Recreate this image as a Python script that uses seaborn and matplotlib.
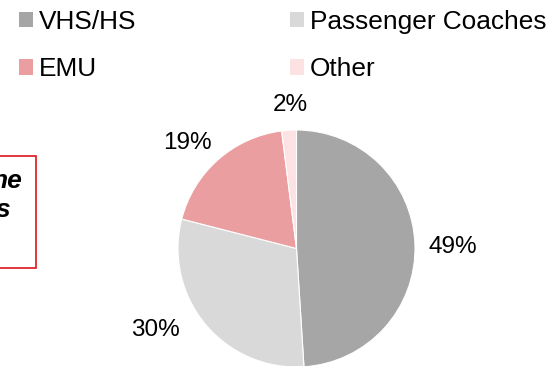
import matplotlib
matplotlib.use("Agg")
import matplotlib.pyplot as plt
import matplotlib.patches as mpatches
import seaborn as sns

# ---- data ----
categories = ["VHS/HS", "Passenger Coaches", "EMU", "Other"]
shares = [49, 30, 19, 2]
pct_labels = ["49%", "30%", "19%", "2%"]
colors = ["#A6A6A6", "#D9D9D9", "#EA9EA0", "#FDE2E4"]
# legend order (row-wise: VHS/HS, Passenger Coaches / EMU, Other)
legend_order = [0, 2, 1, 3]
# label positions (in pie-radius units), layout only
label_pos = [(1.32, 0.01), (-1.19, -0.69), (-0.92, 0.89), (-0.05, 1.21)]

sns.set_theme(style="white")
plt.rcParams["font.family"] = ["Liberation Sans", "DejaVu Sans"]
plt.rcParams["text.color"] = "black"

W, H = 555, 366
fig = plt.figure(figsize=(W / 100, H / 100), dpi=100)
fs = 17.5
fs_leg = 18.9

# pie axes: center (296.5, 248.5) px from top-left, radius 118.5 px
cx, cy, r = 296.5, 248.5, 118.5
ax = fig.add_axes([(cx - r) / W, (H - cy - r) / H, 2 * r / W, 2 * r / H])
wedges, _ = ax.pie(shares, colors=colors, startangle=90, counterclock=False,
                   radius=1.0, wedgeprops=dict(edgecolor="white", linewidth=0.8))
ax.set_xlim(-1, 1)
ax.set_ylim(-1, 1)
ax.set_aspect("equal")
ax.axis("off")
for lab, (x, y) in zip(pct_labels, label_pos):
    ax.text(x, y, lab, ha="center", va="center", fontsize=fs, color="black", clip_on=False)

# legend
handles = [mpatches.Patch(facecolor=colors[i], edgecolor="none") for i in legend_order]
labels = [categories[i] for i in legend_order]
fig.legend(handles, labels, loc="upper left", bbox_to_anchor=(19 / W, 1 - 10 / H),
           ncol=2, frameon=False, fontsize=fs_leg, handlelength=0.53, handleheight=0.53,
           handletextpad=0.23, columnspacing=5.85, labelspacing=0.88, borderpad=0,
           borderaxespad=0)

# partially visible annotation box on the left
fig.add_artist(mpatches.Rectangle((-20 / W, (H - 268) / H), 55.7 / W, 112 / H,
                                  transform=fig.transFigure, fill=False,
                                  edgecolor="#E0141E", linewidth=1.2))
fig.text(22.7 / W, 1 - 188 / H, "ne", ha="right", va="baseline", fontsize=19,
         fontweight="bold", fontstyle="italic")
fig.text(10.5 / W, 1 - 217 / H, "s", ha="right", va="baseline", fontsize=19,
         fontweight="bold", fontstyle="italic")

fig.savefig("out.png", dpi=100)
